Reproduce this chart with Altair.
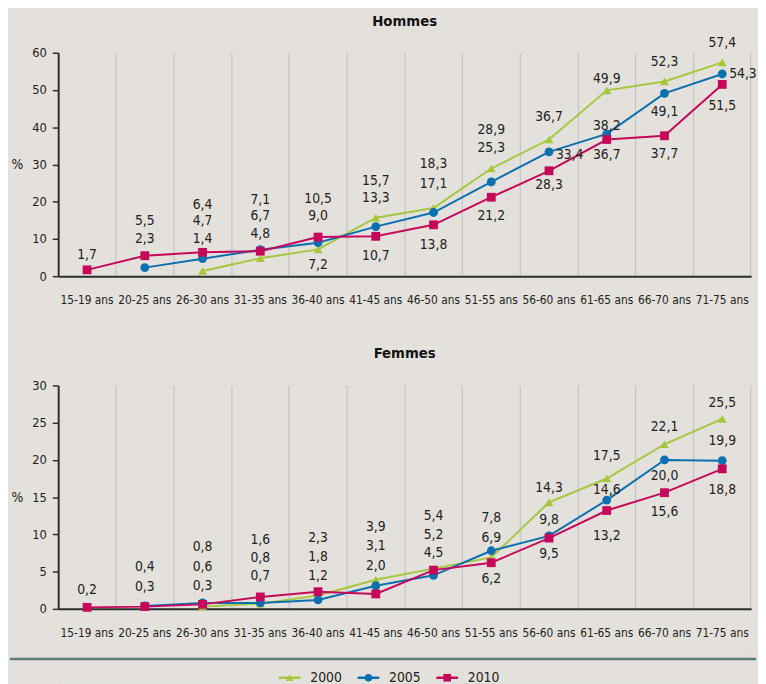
import altair as alt
import pandas as pd

# ---------------- data ----------------
categories = ["15-19 ans", "20-25 ans", "26-30 ans", "31-35 ans", "36-40 ans", "41-45 ans",
              "46-50 ans", "51-55 ans", "56-60 ans", "61-65 ans", "66-70 ans", "71-75 ans"]
years = ["2000", "2005", "2010"]

hommes_2000 = [None, None, 1.4, 4.8, 7.2, 15.7, 18.3, 28.9, 36.7, 49.9, 52.3, 57.4]
hommes_2005 = [None, 2.3, 4.7, 7.1, 9.0, 13.3, 17.1, 25.3, 33.4, 38.2, 49.1, 54.3]
hommes_2010 = [1.7, 5.5, 6.4, 6.7, 10.5, 10.7, 13.8, 21.2, 28.3, 36.7, 37.7, 51.5]

femmes_2000 = [None, None, 0.3, 0.7, 1.8, 3.9, 5.4, 6.9, 14.3, 17.5, 22.1, 25.5]
femmes_2005 = [None, 0.4, 0.8, 0.8, 1.2, 3.1, 4.5, 7.8, 9.8, 14.6, 20.0, 19.9]
femmes_2010 = [0.2, 0.3, 0.6, 1.6, 2.3, 2.0, 5.2, 6.2, 9.5, 13.2, 15.6, 18.8]

# legend order
legend_index = [0, 1, 2]

# ---------------- style ----------------
# vertical label offsets (pixels, relative to the point)
hommes_label_dy = {
    "2000": [0, 0, -32, -25, 16, -37, -45, -39, -23, -11, -20, -20],
    "2005": [0, -29, -38, -50, -27, -29, -29, -34, 3, -8, 19, 0],
    "2010": [-15, -35, -48, -36, -39, 20, 21, 19, 14, 16, 19, 22],
}
femmes_label_dy = {
    "2000": [0, 0, -21, -28, -39, -54, -53, -20, -15, -23, -17, -16],
    "2005": [0, -39, -57, -46, -24, -40, -23, -33, -16, -10, 16, -20],
    "2010": [-18, -20, -38, -58, -55, -28, -36, 17, 16, 26, 20, 22],
}
hommes_side = {("2005", "56-60 ans"), ("2005", "71-75 ans")}

FONT = "Liberation Sans Narrow, DejaVu Sans Condensed, Liberation Sans, sans-serif"
COLORS = ["#a5c73b", "#0a70b0", "#c6085b"]
SHAPES = ["triangle-up", "circle", "square"]
BG = "#e4e0db"
AXIS_C = "#2e2e2e"
TXT_C = "#222222"
W = 704
H = 227

color_scale = alt.Scale(domain=years, range=COLORS)
shape_scale = alt.Scale(domain=years, range=SHAPES)


def panel(values, dys, side, title, ymax, ystep, title_offset):
    rows = []
    for yr in years:
        for i, c in enumerate(categories):
            v = values[yr][i]
            if v is None:
                continue
            dy = dys[yr][i]
            rows.append({
                "cat": c, "year": yr, "value": v,
                "label": f"{v:.1f}".replace(".", ","),
                "label_pos": v - dy * ymax / H,
                "side": "r" if (yr, c) in side else "c",
            })
    df = pd.DataFrame(rows)

    x_axis = alt.Axis(title=None, bandPosition=1, grid=True, gridColor="#c4c4c4", gridWidth=1.2,
                      ticks=False, labelPadding=19, labelAngle=0,
                      domainColor=AXIS_C, domainWidth=2, labelFontSize=12, labelColor=TXT_C,
                      labelFont=FONT)
    y_axis = alt.Axis(values=list(range(0, ymax + 1, ystep)), grid=False, title="%",
                      titleAngle=0, titleX=-42, titleY=H / 2, titleAlign="center",
                      titleBaseline="middle", titleFontWeight="normal", titleFontSize=14,
                      titleColor=TXT_C, titleFont=FONT,
                      domainColor=AXIS_C, domainWidth=2, tickColor=AXIS_C, tickSize=6,
                      tickWidth=1.5, labelPadding=6, labelFontSize=13, labelColor=TXT_C,
                      labelFont=FONT)
    x_scale = alt.Scale(type="band", paddingInner=0, paddingOuter=0)
    y_scale = alt.Scale(domain=[0, ymax], nice=False, zero=True)

    x_enc = alt.X("cat:N", sort=categories, bandPosition=0.5, scale=x_scale, axis=x_axis)
    base = alt.Chart(df)

    line = base.mark_line(strokeWidth=2).encode(
        x=x_enc,
        y=alt.Y("value:Q", scale=y_scale, axis=y_axis),
        color=alt.Color("year:N", scale=color_scale, legend=None),
    )
    pts = base.mark_point(filled=True, opacity=1, size=80).encode(
        x=x_enc,
        y=alt.Y("value:Q", scale=y_scale, axis=y_axis),
        color=alt.Color("year:N", scale=color_scale, legend=None),
        shape=alt.Shape("year:N", scale=shape_scale, legend=None),
    )
    txt_c = base.transform_filter(alt.datum.side == "c").mark_text(
        fontSize=14, font=FONT, color=TXT_C, baseline="middle", align="center"
    ).encode(
        x=x_enc,
        y=alt.Y("label_pos:Q", scale=y_scale, axis=y_axis),
        text="label:N",
    )
    txt_r = base.transform_filter(alt.datum.side == "r").mark_text(
        fontSize=14, font=FONT, color=TXT_C, baseline="middle", align="left", dx=7
    ).encode(
        x=x_enc,
        y=alt.Y("label_pos:Q", scale=y_scale, axis=y_axis),
        text="label:N",
    )
    return alt.layer(line, pts, txt_c, txt_r).properties(
        width=W, height=H,
        title=alt.TitleParams(title, font=FONT, fontSize=15, fontWeight="bold",
                              color="#111111", anchor="middle", offset=title_offset),
    )


top = panel({"2000": hommes_2000, "2005": hommes_2005, "2010": hommes_2010},
            hommes_label_dy, hommes_side, "Hommes", 60, 10, 7)
bottom = panel({"2000": femmes_2000, "2005": femmes_2005, "2010": femmes_2010},
               femmes_label_dy, set(), "Femmes", 30, 5, 19)

# ---------------- legend ----------------
leg_df = pd.DataFrame({"year": years, "idx": legend_index})
leg_x = alt.X("idx:Q", scale=alt.Scale(domain=[-2.94, 5.86], nice=False, zero=False), axis=None)
sep = alt.Chart(pd.DataFrame({"a": [0]})).mark_rule(color="#5b7d76", strokeWidth=2.5).encode(
    x=alt.value(-49), x2=alt.value(W + 5), y=alt.value(5)
)
leg_tick = alt.Chart(leg_df).mark_tick(orient="horizontal", size=22, thickness=2.5, opacity=1).encode(
    x=leg_x, y=alt.value(24),
    color=alt.Color("year:N", scale=color_scale, legend=None),
)
leg_pt = alt.Chart(leg_df).mark_point(filled=True, opacity=1, size=60).encode(
    x=leg_x, y=alt.value(24),
    color=alt.Color("year:N", scale=color_scale, legend=None),
    shape=alt.Shape("year:N", scale=shape_scale, legend=None),
)
leg_txt = alt.Chart(leg_df).mark_text(align="left", baseline="middle", dx=21, fontSize=14,
                                      font=FONT, color=TXT_C).encode(
    x=leg_x, y=alt.value(24), text="year:N"
)
legend = alt.layer(sep, leg_tick, leg_pt, leg_txt).properties(width=W, height=30)

chart = alt.vconcat(
    alt.vconcat(top, bottom, spacing=39),
    legend,
    spacing=14,
).properties(
    padding={"left": 0, "top": 0, "right": 0, "bottom": 0},
    background=BG,
).configure_view(stroke=None).configure(font=FONT)

chart.save("out.html", embed_options={"renderer": "svg", "actions": False})
